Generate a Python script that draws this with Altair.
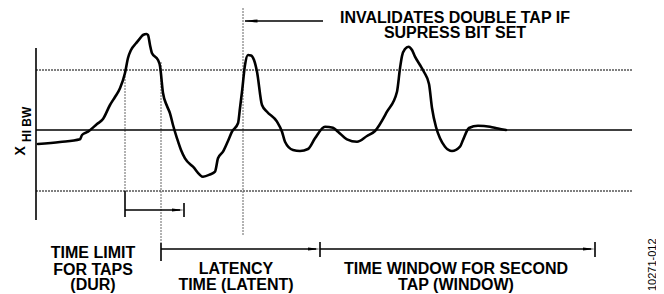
import altair as alt
import pandas as pd

# ---- page-space geometry (page pixels, y downward) ----
W, H = 648, 286
XD = [8, 8 + W]
YD = [8, 8 + H]

# signal curve
curve_x = [38, 60, 80, 82, 88, 97, 103, 110, 115, 120, 125, 128, 131, 136, 140, 143, 146.5, 148, 150, 152, 158, 160,
           163, 167, 170, 173, 177, 181, 185, 193, 203, 210, 215, 218, 223, 228, 232, 238, 240, 242, 245, 248, 251,
           254, 257, 262, 267, 277, 282, 285, 293, 300, 308, 315, 325, 333, 338, 347, 357, 367, 375, 387, 397, 400,
           402, 405, 408.5, 412, 415, 420, 424, 429, 432, 436, 440, 445, 452, 460, 463, 469, 478, 490, 498, 506]
curve_y = [144, 142, 139.3, 135, 131.7, 124, 119, 105, 97, 88.3, 73, 58, 50, 43.3, 38.3, 35, 34, 35, 45, 53.3, 60, 66,
           93, 106, 113.3, 125, 138.3, 150, 158.3, 166.7, 176.7, 174.5, 171.7, 158.3, 151.7, 141, 131.7, 123.3, 108,
           91.7, 65, 55, 55.5, 60, 71.7, 105, 111.7, 121.7, 131.7, 141.7, 150, 151, 149, 138.3, 126.7, 127.7, 131.7,
           139.3, 141.7, 136, 131, 111.7, 91.7, 68.3, 56, 49, 46.7, 50, 56.7, 65, 72, 84, 108, 127, 138.3, 146.7, 151,
           146.7, 140, 128, 125.7, 126.7, 128.5, 130]

# solid guide lines: x, x2, y, y2
solid_x1 = [36, 36, 125, 161, 184, 320, 595, 125, 161, 320, 245]
solid_x2 = [36, 632, 125, 161, 184, 320, 595, 180, 316, 591, 323]
solid_y1 = [48, 130, 191, 243, 203, 242, 242, 210, 249, 249, 21]
solid_y2 = [220, 130, 217, 261, 217, 257, 257, 210, 249, 249, 21]

# dotted horizontal thresholds
hdot_x1 = [36, 36]
hdot_x2 = [632, 632]
hdot_y = [70, 191]

# dotted vertical markers
vdot_x = [125, 161, 243]
vdot_y1 = [70, 62, 8]
vdot_y2 = [191, 243, 235]

# arrowheads (centre position, direction)
head_x = [178, 314, 589, 251]
head_y = [210, 249, 249, 21]
head_dir = ["right", "right", "right", "left"]

# text labels
lab_text = ["INVALIDATES DOUBLE TAP IF", "SUPRESS BIT SET",
            "TIME LIMIT", "FOR TAPS", "(DUR)",
            "LATENCY", "TIME (LATENT)",
            "TIME WINDOW FOR SECOND", "TAP (WINDOW)"]
lab_x = [455, 455, 93, 93, 93, 236, 236, 456, 456]
lab_y = [22.5, 37.5, 258, 274.5, 290, 274, 290, 274, 290]

xs = alt.Scale(domain=XD, range=[0, W], nice=False, zero=False)
ys = alt.Scale(domain=YD, range=[0, H], nice=False, zero=False)


def X(f="x"):
    return alt.X(f, type="quantitative", scale=xs, axis=None)


def Y(f="y"):
    return alt.Y(f, type="quantitative", scale=ys, axis=None)


curve = alt.Chart(pd.DataFrame({"x": curve_x, "y": curve_y, "i": range(len(curve_x))})).mark_line(
    color="black", strokeWidth=2.6, interpolate="monotone", strokeJoin="round", strokeCap="round"
).encode(x=X(), y=Y(), order="i:Q")

solid = alt.Chart(pd.DataFrame({"x": solid_x1, "x2": solid_x2, "y": solid_y1, "y2": solid_y2})).mark_rule(
    color="black", strokeWidth=1.6
).encode(x=X(), x2="x2:Q", y=Y(), y2="y2:Q")

hdot = alt.Chart(pd.DataFrame({"x": hdot_x1, "x2": hdot_x2, "y": hdot_y})).mark_rule(
    color="black", strokeWidth=1.2, strokeDash=[2, 1]
).encode(x=X(), x2="x2:Q", y=Y())

vdot = alt.Chart(pd.DataFrame({"x": vdot_x, "y": vdot_y1, "y2": vdot_y2})).mark_rule(
    color="#666666", strokeWidth=1, strokeDash=[2, 1]
).encode(x=X(), y=Y(), y2="y2:Q")

hd = pd.DataFrame({"x": head_x, "y": head_y, "d": head_dir})
heads_r = alt.Chart(hd[hd.d == "right"]).mark_point(
    shape="M -1 -0.24 L 1 0 L -1 0.24 Z", size=144, filled=True, color="black", opacity=1, strokeWidth=0
).encode(x=X(), y=Y())
heads_l = alt.Chart(hd[hd.d == "left"]).mark_point(
    shape="M 1 -0.24 L -1 0 L 1 0.24 Z", size=169, filled=True, color="black", opacity=1, strokeWidth=0
).encode(x=X(), y=Y())

labels = alt.Chart(pd.DataFrame({"x": lab_x, "y": lab_y, "t": lab_text})).mark_text(
    font="Liberation Sans", fontWeight="bold", fontSize=16, align="center", baseline="alphabetic", color="black"
).encode(x=X(), y=Y(), text="t:N")

ylab_main = alt.Chart(pd.DataFrame({"x": [25], "y": [155.5], "t": ["X"]})).mark_text(
    font="Liberation Sans", fontWeight="bold", fontSize=14, align="left", baseline="alphabetic", angle=270,
    color="black"
).encode(x=X(), y=Y(), text="t:N")
ylab_sub = alt.Chart(pd.DataFrame({"x": [30.5], "y": [142], "t": ["HI BW"]})).mark_text(
    font="Liberation Sans", fontWeight="bold", fontSize=12, align="left", baseline="alphabetic", angle=270,
    color="black"
).encode(x=X(), y=Y(), text="t:N")
code = alt.Chart(pd.DataFrame({"x": [655.5], "y": [291], "t": ["10271-012"]})).mark_text(
    font="Liberation Sans", fontSize=11, align="left", baseline="alphabetic", angle=270, color="black"
).encode(x=X(), y=Y(), text="t:N")

chart = alt.layer(hdot, vdot, solid, curve, heads_r, heads_l, labels, ylab_main, ylab_sub, code).properties(
    width=W, height=H, padding=0, autosize=alt.AutoSizeParams(type="none"),
    background="white"
).configure_view(stroke=None)

chart.save("out.html", embed_options={"renderer": "svg", "actions": False})
